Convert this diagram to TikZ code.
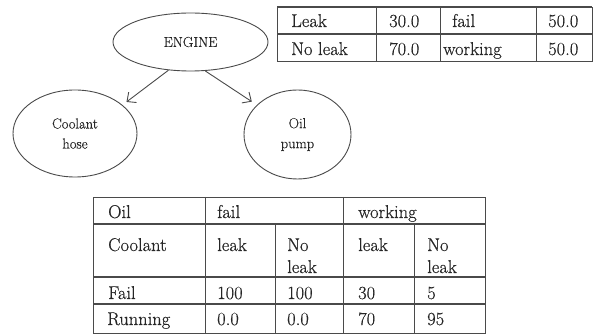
\documentclass[tikz,border=0pt]{standalone}
\usepackage{fontspec}
\newfontfamily\labelfont{Latin Modern Roman}[FakeBold=0.5]
\usetikzlibrary{arrows.meta,shapes.geometric}
\definecolor{ink}{HTML}{262626}
\definecolor{rulegray}{HTML}{4A4A4A}
\begin{document}
\begin{tikzpicture}[x=1pt,y=-1pt,
  bubble/.style={draw=rulegray, line width=0.9pt, ellipse, inner sep=0pt,
    text=ink, align=center, font=\labelfont\fontsize{14.5}{20}\selectfont},
  link/.style={draw=rulegray, line width=0.9pt,
    -{Straight Barb[length=7pt,width=13pt,line width=0.9pt]}},
  grid/.style={draw=rulegray, line width=0.8pt},
  heavy/.style={draw=rulegray, line width=1.3pt},
  cell/.style={anchor=base west, inner sep=0pt, text=ink,
    font=\labelfont\fontsize{18.5}{22}\selectfont},
]
\useasboundingbox (0,0) rectangle (594,336);

% --- network of nodes ---
\node[bubble, minimum width=155pt, minimum height=58pt] (engine) at (190.5,42) {ENGINE};
\node[bubble, minimum width=124pt, minimum height=87pt] (coolant) at (75,133.5) {Coolant\\hose};
\node[bubble, minimum width=107pt, minimum height=89pt] (oil) at (297.5,134.5) {Oil\\pump};

\draw[link, shorten >=5pt] (engine.232) -- (coolant.31);
\draw[link, shorten >=6pt] (engine.297) -- (oil.144);

% --- prior table ---
\draw[grid] (277,7) rectangle (592,61);
\draw[heavy] (277,7) -- (592,7);
\draw[heavy] (277,34) -- (592,34);
\foreach \cx in {376,440,536} \draw[grid] (\cx,7) -- (\cx,61);

\node[cell] (p11) at (291,27) {Leak};
\node[cell] (p12) at (389,27) {30.0};
\node[cell] (p13) at (452,27) {fail};
\node[cell] (p14) at (548,27) {50.0};
\node[cell] (p21) at (291,55) {No leak};
\node[cell] (p22) at (389,55) {70.0};
\node[cell] (p23) at (443,55) {working};
\node[cell] (p24) at (548,55) {50.0};

% --- conditional table ---
\draw[grid] (93,197) rectangle (485,333);
\foreach \ry in {224,277,304} \draw[heavy] (93,\ry) -- (485,\ry);
\foreach \cx in {205,343} \draw[grid] (\cx,197) -- (\cx,333);
\foreach \cx in {275,414} \draw[grid] (\cx,224) -- (\cx,333);

\node[cell] (c11) at (108,218) {Oil};
\node[cell] (c12) at (217,218) {fail};
\node[cell] (c13) at (358,218) {working};

\node[cell] (c21) at (108,251) {Coolant};
\node[cell] (c22) at (217,251) {leak};
\node[cell] (c23) at (287,251) {No};
\node[cell] (c23b) at (287,273) {leak};
\node[cell] (c24) at (358,251) {leak};
\node[cell] (c25) at (427,251) {No};
\node[cell] (c25b) at (427,273) {leak};

\node[cell] (c31) at (108,299) {Fail};
\node[cell] (c32) at (217,299) {100};
\node[cell] (c33) at (287,299) {100};
\node[cell] (c34) at (358,299) {30};
\node[cell] (c35) at (427,299) {5};

\node[cell] (c41) at (107,325) {Running};
\node[cell] (c42) at (217,325) {0.0};
\node[cell] (c43) at (287,325) {0.0};
\node[cell] (c44) at (358,325) {70};
\node[cell] (c45) at (427,325) {95};
\end{tikzpicture}
\end{document}
